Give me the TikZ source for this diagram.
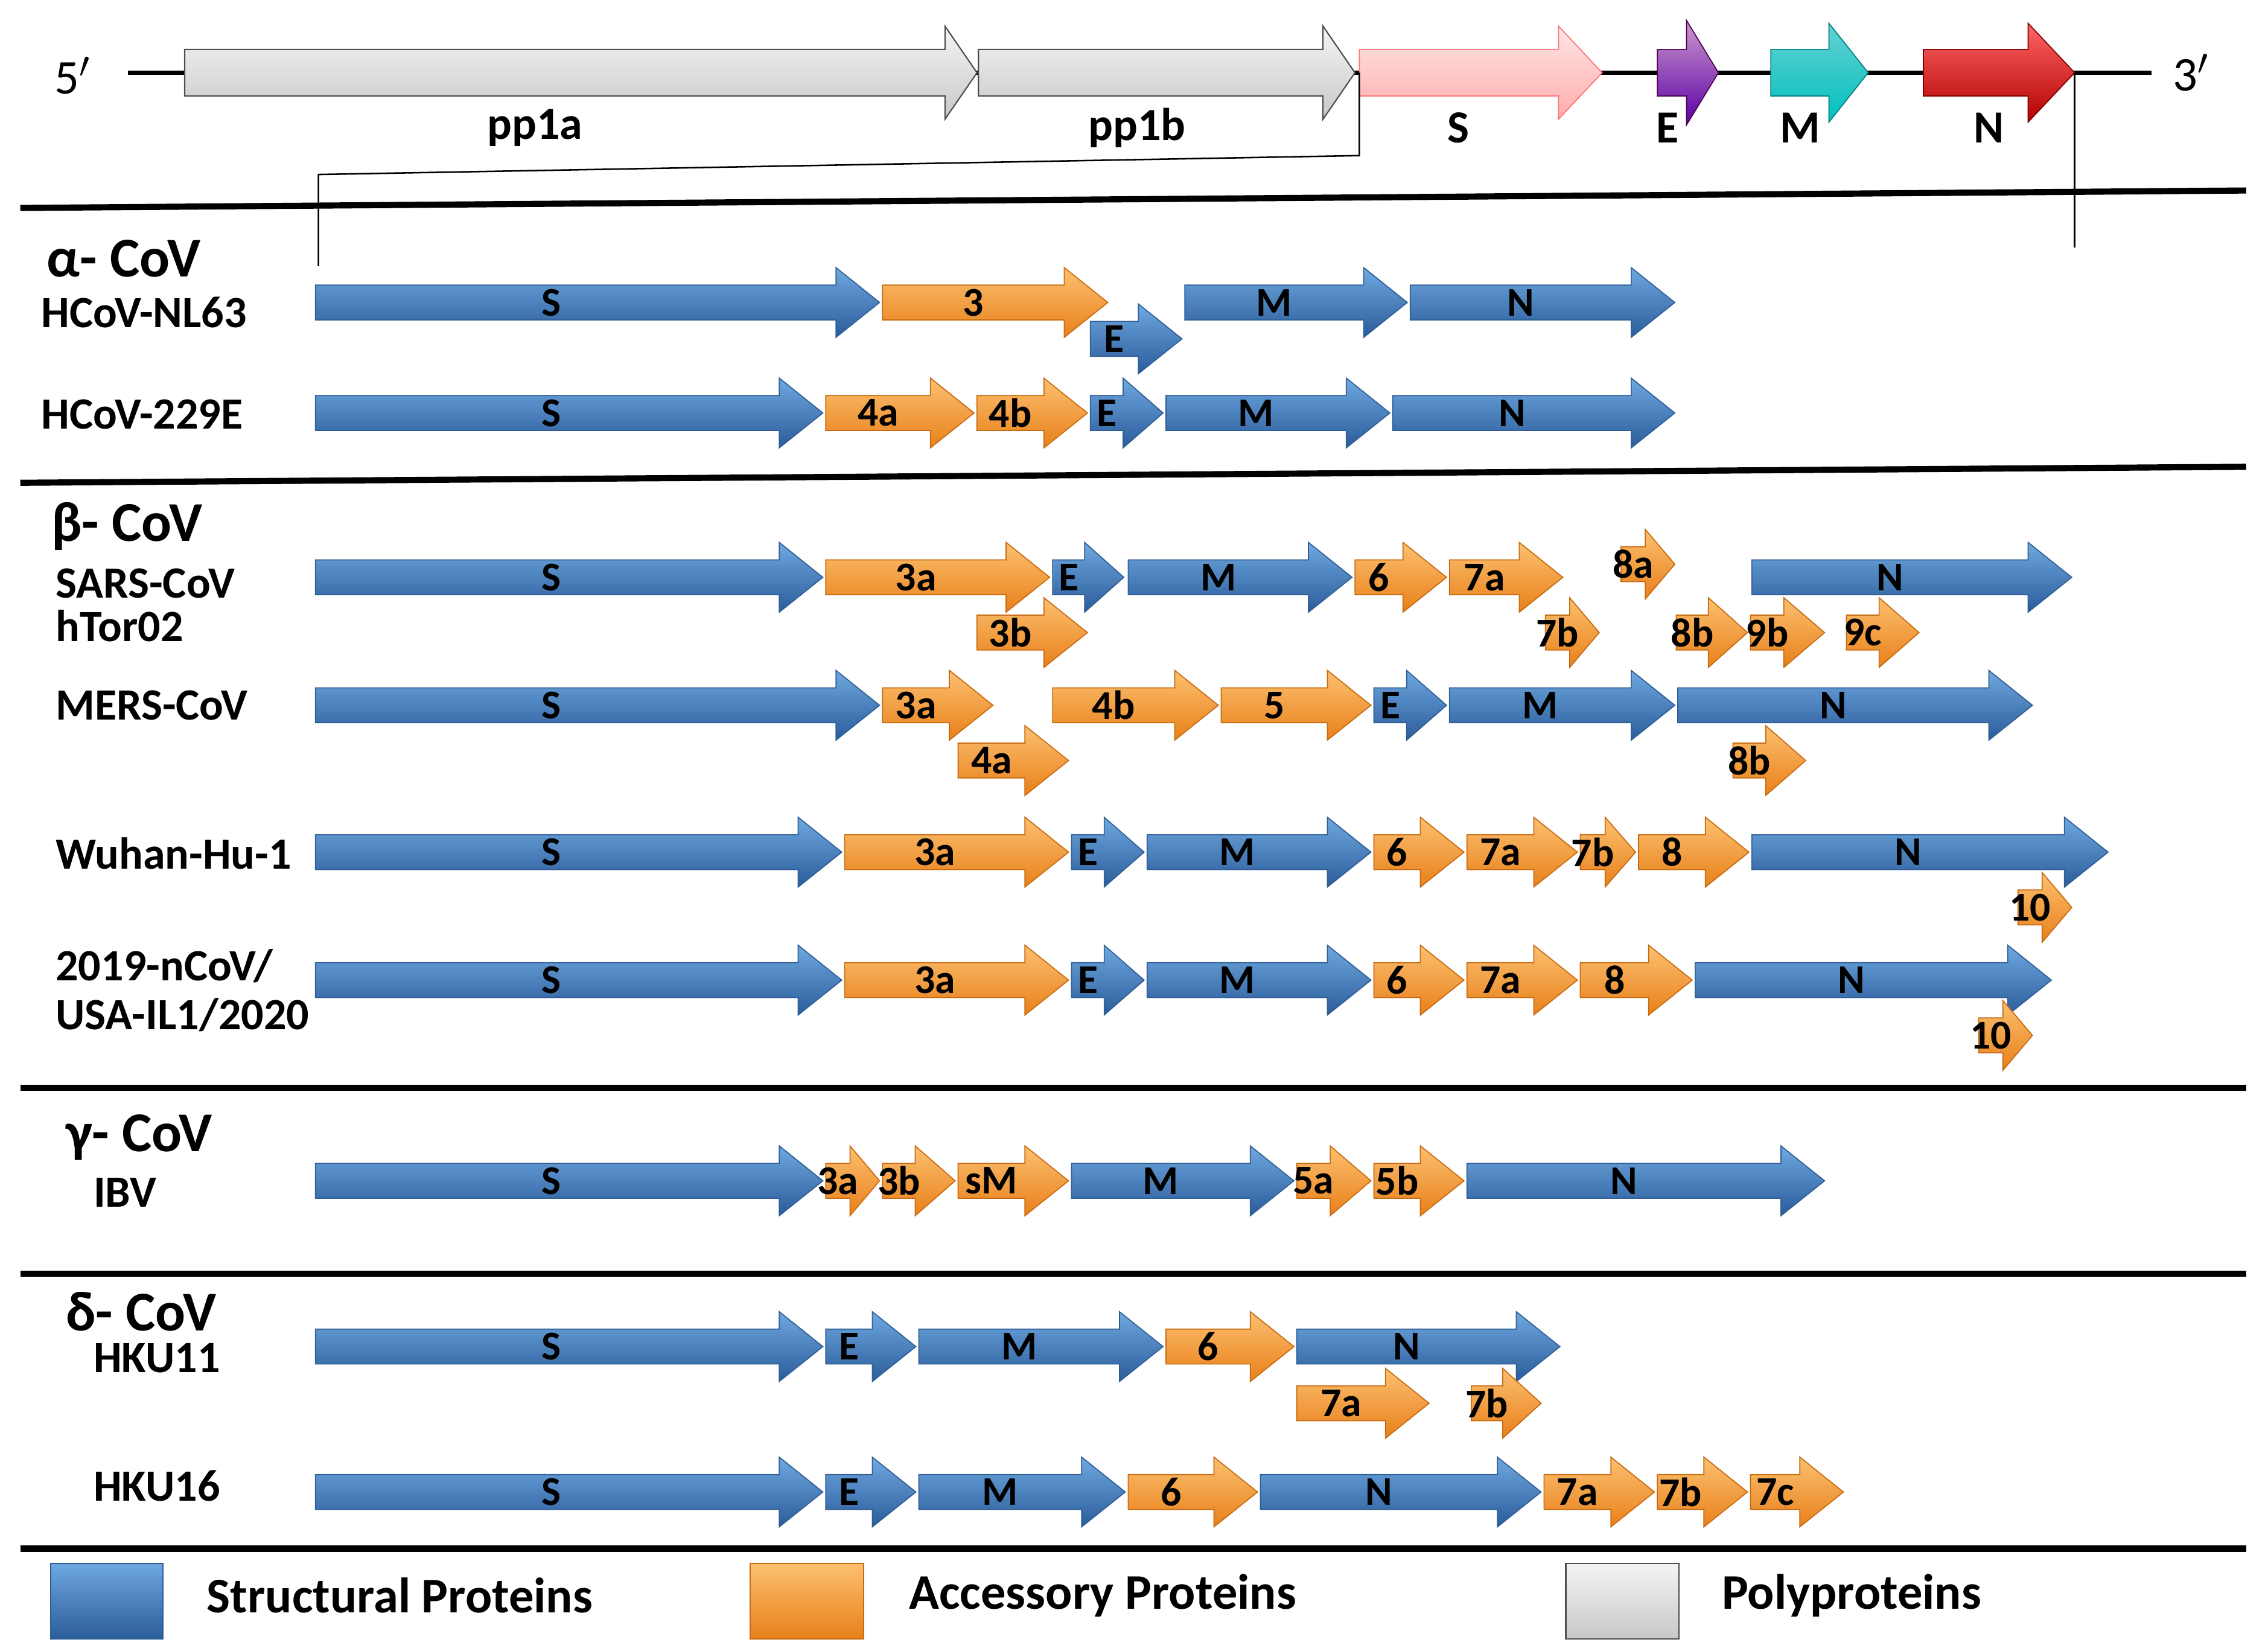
\documentclass[tikz,border=0pt]{standalone}
\usepackage{fontspec}
\setmainfont{Carlito}
\definecolor{bt}{HTML}{6FA8E0}\definecolor{bb}{HTML}{2A5C9A}\definecolor{bo}{HTML}{2F5E96}
\definecolor{ot}{HTML}{FCC070}\definecolor{ob}{HTML}{E8801A}\definecolor{oo}{HTML}{C86A10}
\definecolor{gt}{HTML}{F4F4F4}\definecolor{gb}{HTML}{C8C8C8}
\tikzset{
 blu/.style={top color=bt,bottom color=bb,draw=bo,line width=0.4pt},
 org/.style={top color=ot,bottom color=ob,draw=oo,line width=0.4pt},
 gry/.style={top color=gt,bottom color=gb,draw=black!70,line width=0.5pt},
 lab/.style={font=\fontsize{16}{16}\selectfont\bfseries,inner sep=0pt},
 nm/.style={font=\fontsize{17.5}{19}\selectfont\bfseries,anchor=west,inner sep=0pt,align=left},
 grp/.style={font=\fontsize{22}{22}\selectfont\bfseries,anchor=west,inner sep=0pt},
 leg/.style={font=\fontsize{19.5}{20}\selectfont\bfseries,anchor=west,inner sep=0pt},
 sep/.style={line width=2.4pt}
}
% #1 x1, #2 x2, #3 y, #4 style, #5 label
\newcommand\garr[5]{%
 \pgfmathsetmacro\hh{min(30,0.55*(#2-#1))}%
 \shade[#4] (#1,#3-12)--(#2-\hh,#3-12)--(#2-\hh,#3-24)--(#2,#3)--(#2-\hh,#3+24)--(#2-\hh,#3+12)--(#1,#3+12)--cycle;
 \node[lab] at ({(#1+#2-\hh)/2},#3) {#5};}
\newcommand\sarr[2]{%
 \shade[blu] (217,#2-12)--(#1-30,#2-12)--(#1-30,#2-24)--(#1,#2)--(#1-30,#2+24)--(#1-30,#2+12)--(217,#2+12)--cycle;
 \node[lab] at (379,#2) {S};}
\begin{document}
\begin{tikzpicture}[x=0.02cm,y=-0.02cm]
\useasboundingbox (0,0) rectangle (1560,1135);
% top genome
\draw[line width=1.6pt] (88,50)--(1480,50);
\node[font=\fontsize{19}{19}\selectfont] at (50,52) {5$'$};
\node[font=\fontsize{19}{19}\selectfont] at (1507,50) {3$'$};
\shade[gry] (127,34)--(650,34)--(650,18)--(672,50)--(650,82)--(650,66)--(127,66)--cycle;
\shade[gry] (673,34)--(910,34)--(910,18)--(932,50)--(910,82)--(910,66)--(673,66)--cycle;
\shade[top color=pink!40!white,bottom color=pink!90!red,draw=pink!60!red] (935,34)--(1072,34)--(1072,18)--(1102,50)--(1072,82)--(1072,66)--(935,66)--cycle;
\shade[top color=violet!40!white,bottom color=violet!70!blue,draw=violet!60!black] (1140,34)--(1160,34)--(1160,14)--(1182,50)--(1160,86)--(1160,66)--(1140,66)--cycle;
\shade[top color=cyan!40!teal!60!white,bottom color=cyan!50!teal,draw=teal] (1218,34)--(1258,34)--(1258,16)--(1285,50)--(1258,84)--(1258,66)--(1218,66)--cycle;
\shade[top color=red!60!white,bottom color=red!70!black,draw=red!50!black] (1323,34)--(1395,34)--(1395,16)--(1427,50)--(1395,84)--(1395,66)--(1323,66)--cycle;
\begin{scope}[font=\fontsize{18}{18}\selectfont\bfseries]
\node (t1) at (368,88) {pp1a};\node (t2) at (782,88) {pp1b};\node (t3) at (1003,88) {S};
\node (t4) at (1147,88) {E};\node (t5) at (1238,88) {M};\node (t6) at (1368,88) {N};
\end{scope}
\draw[line width=0.6pt] (935,50)--(935,107)--(219,120)--(219,183);
\draw[line width=0.6pt] (1427,50)--(1427,170);
% separators
\draw[sep] (14,143)--(1545,131);
\draw[sep] (14,332)--(1545,321);
\draw[sep] (14,748)--(1545,748);
\draw[sep] (14,876)--(1545,876);
\draw[sep] (14,1065)--(1545,1065);
% alpha
\node[grp] at (32,178) {α- CoV};
\node[nm] at (28,215) {HCoV-NL63};
\sarr{605}{208}\garr{607}{762}{208}{org}{3}\garr{750}{813}{233}{blu}{E}
\garr{815}{968}{208}{blu}{M}\garr{970}{1152}{208}{blu}{N}
\node[nm] at (28,285) {HCoV-229E};
\sarr{566}{284}\garr{568}{670}{284}{org}{4a}\garr{672}{748}{284}{org}{4b}
\garr{750}{800}{284}{blu}{E}\garr{802}{956}{284}{blu}{M}\garr{958}{1152}{284}{blu}{N}
% beta
\node[grp] at (35,362) {β- CoV};
\node[nm,font=\fontsize{17.5}{17}\selectfont\bfseries] at (38,416) {SARS-CoV\\hTor02};
\sarr{566}{397}\garr{568}{722}{397}{org}{3a}\garr{724}{773}{397}{blu}{E}
\garr{776}{930}{397}{blu}{M}\garr{932}{995}{397}{org}{6}\garr{997}{1075}{397}{org}{7a}
\garr{1115}{1152}{388}{org}{8a}\garr{1205}{1425}{397}{blu}{N}
\garr{672}{748}{435}{org}{3b}\garr{1063}{1100}{435}{org}{7b}\garr{1153}{1202}{435}{org}{8b}
\garr{1204}{1255}{435}{org}{9b}\garr{1270}{1320}{435}{org}{9c}
\node[nm] at (38,485) {MERS-CoV};
\sarr{605}{485}\garr{607}{683}{485}{org}{3a}\garr{724}{838}{485}{org}{4b}
\garr{840}{943}{485}{org}{5}\garr{945}{995}{485}{blu}{E}\garr{997}{1152}{485}{blu}{M}
\garr{1154}{1398}{485}{blu}{N}\garr{659}{735}{523}{org}{4a}\garr{1192}{1242}{523}{org}{8b}
\node[nm] at (38,587) {Wuhan-Hu-1};
\sarr{579}{586}\garr{581}{735}{586}{org}{3a}\garr{737}{787}{586}{blu}{E}
\garr{789}{943}{586}{blu}{M}\garr{945}{1007}{586}{org}{6}\garr{1009}{1085}{586}{org}{7a}
\garr{1087}{1125}{586}{org}{7b}\garr{1127}{1203}{586}{org}{8}\garr{1205}{1450}{586}{blu}{N}
\garr{1388}{1425}{624}{org}{10}
\node[nm] at (38,681) {2019-nCoV/\\USA-IL1/2020};
\sarr{579}{674}\garr{581}{735}{674}{org}{3a}\garr{737}{787}{674}{blu}{E}
\garr{789}{943}{674}{blu}{M}\garr{945}{1007}{674}{org}{6}\garr{1009}{1085}{674}{org}{7a}
\garr{1087}{1164}{674}{org}{8}\garr{1166}{1411}{674}{blu}{N}\garr{1361}{1398}{712}{org}{10}
% gamma
\node[grp] at (45,782) {γ- CoV};\node[nm] at (64,820) {IBV};
\sarr{566}{812}\garr{568}{605}{812}{org}{3a}\garr{607}{657}{812}{org}{3b}
\garr{659}{735}{812}{org}{sM}\garr{737}{890}{812}{blu}{M}\garr{892}{943}{812}{org}{5a}
\garr{945}{1007}{812}{org}{5b}\garr{1009}{1255}{812}{blu}{N}
% delta
\node[grp] at (45,902) {δ- CoV};\node[nm] at (64,934) {HKU11};
\sarr{566}{926}\garr{568}{630}{926}{blu}{E}\garr{632}{800}{926}{blu}{M}
\garr{802}{890}{926}{org}{6}\garr{892}{1073}{926}{blu}{N}
\garr{892}{983}{965}{org}{7a}\garr{1012}{1060}{965}{org}{7b}
\node[nm] at (64,1022) {HKU16};
\sarr{566}{1026}\garr{568}{630}{1026}{blu}{E}\garr{632}{774}{1026}{blu}{M}
\garr{776}{865}{1026}{org}{6}\garr{867}{1060}{1026}{blu}{N}\garr{1062}{1138}{1026}{org}{7a}
\garr{1140}{1202}{1026}{org}{7b}\garr{1204}{1268}{1026}{org}{7c}
% legend
\shade[blu] (35,1075) rectangle (112,1127);
\shade[org] (516,1075) rectangle (594,1127);
\shade[gry] (1077,1075) rectangle (1155,1127);
\node[leg] (l1) at (142,1097) {Structural Proteins};
\node[leg] (l2) at (625,1097) {Accessory Proteins};
\node[leg] (l3) at (1184,1097) {Polyproteins};
\end{tikzpicture}
\end{document}
